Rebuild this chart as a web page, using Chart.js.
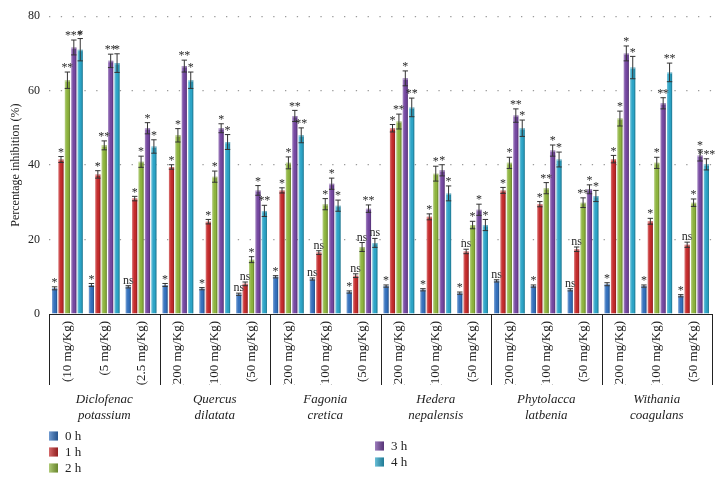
<!DOCTYPE html>
<html>
<head>
<meta charset="utf-8">
<script src="https://cdn.jsdelivr.net/npm/chart.js@4.4.1/dist/chart.umd.min.js"></script>
<style>
  html, body { margin: 0; padding: 0; background: #fff; }
  canvas { display: block; }
</style>
</head>
<body>
<canvas id="chart" width="726" height="496"></canvas>
<script>
// ---------------------------------------------------------
// Data
// ---------------------------------------------------------
const doses = ["(10 mg/Kg)", "(5 mg/Kg)", "(2.5 mg/Kg)"];
const plantDoses = ["(200 mg/Kg)", "(100 mg/Kg)", "(50 mg/Kg)"];
const categories = doses.concat(plantDoses, plantDoses, plantDoses, plantDoses, plantDoses);

const plants = [
    ["Diclofenac", "potassium"],
    ["Quercus", "dilatata"],
    ["Fagonia", "cretica"],
    ["Hedera", "nepalensis"],
    ["Phytolacca", "latbenia"],
    ["Withania", "coagulans"]
];

const seriesLabels = ["0 h", "1 h", "2 h", "3 h", "4 h"];
const seriesColors = ["#3370bd", "#c42a2b", "#8db43d", "#7446a0", "#2ba4c7"];

const h0 = [6.9, 7.8, 7.3, 7.8, 6.8, 5.3, 10.0, 9.4, 5.9, 7.5, 6.5, 5.6, 8.9, 7.5, 6.5, 8.0, 7.5, 4.9];
const h1 = [41.5, 37.5, 31.0, 39.5, 24.8, 8.1, 33.2, 16.5, 10.3, 49.9, 26.1, 16.8, 33.2, 29.5, 17.4, 41.6, 24.9, 18.6];
const h2 = [62.8, 45.3, 40.9, 48.0, 36.9, 14.6, 40.6, 29.5, 18.0, 51.7, 37.7, 23.9, 40.6, 33.8, 29.9, 52.5, 40.6, 29.9];
const h3 = [71.6, 68.0, 49.9, 66.6, 49.9, 33.2, 53.2, 35.0, 28.3, 63.3, 38.6, 28.0, 53.3, 43.9, 33.5, 70.0, 56.6, 42.6];
const h4 = [71.0, 67.4, 45.0, 62.8, 46.2, 27.7, 48.0, 29.1, 19.1, 55.5, 32.4, 23.9, 49.9, 41.5, 31.7, 66.2, 64.9, 40.2];

// error bars (+/-)
const e0 = [0.4, 0.4, 0.3, 0.4, 0.3, 0.3, 0.3, 0.3, 0.3, 0.3, 0.3, 0.3, 0.3, 0.3, 0.3, 0.4, 0.3, 0.3];
const e1 = [0.8, 1.0, 0.6, 0.6, 0.6, 0.5, 0.7, 0.5, 0.5, 1.0, 0.8, 0.6, 0.8, 0.7, 0.6, 1.0, 0.8, 0.7];
const e2 = [2.2, 1.2, 1.5, 1.8, 1.5, 0.8, 1.6, 1.5, 1.2, 2.0, 2.0, 1.0, 1.5, 1.5, 1.3, 2.0, 1.5, 1.0];
const e3 = [2.0, 1.8, 1.5, 1.6, 1.2, 1.3, 1.5, 1.5, 1.0, 2.0, 1.5, 1.5, 1.8, 1.5, 1.2, 2.0, 1.5, 1.5];
const e4 = [3.0, 2.5, 1.8, 2.2, 2.0, 1.5, 2.0, 1.5, 1.2, 2.5, 2.0, 1.5, 2.2, 2.0, 1.5, 3.0, 2.5, 1.5];

// significance marks
const s0 = ["*", "*", "ns", "*", "*", "ns", "*", "ns", "*", "*", "*", "*", "ns", "*", "ns", "*", "*", "*"];
const s1 = ["*", "*", "*", "*", "*", "ns", "*", "ns", "ns", "*", "*", "ns", "*", "*", "ns", "*", "*", "ns"];
const s2 = ["**", "**", "*", "*", "*", "*", "*", "*", "ns", "**", "*", "*", "*", "**", "**", "*", "*", "*"];
const s3 = ["***", "**", "*", "**", "*", "*", "**", "*", "**", "*", "*", "*", "**", "*", "*", "*", "**", "*"];
const s4 = ["*", "*", "*", "*", "*", "**", "**", "*", "ns", "**", "*", "*", "*", "*", "*", "*", "**", "***"];

const values = [h0, h1, h2, h3, h4];
const errors = [e0, e1, e2, e3, e4];
const marks = [s0, s1, s2, s3, s4];

const FONT = "'Liberation Serif', 'Times New Roman', serif";
const TEXT = "#222";

// ---------------------------------------------------------
// Extras: bar shading, error bars, marks, group labels, legend
// ---------------------------------------------------------
const extras = {
    id: "extras",
    afterDatasetsDraw(chart) {
        const ctx = chart.ctx;
        const yScale = chart.scales.y;
        ctx.save();
        chart.data.datasets.forEach((ds, di) => {
            const meta = chart.getDatasetMeta(di);
            meta.data.forEach((bar, i) => {
                const p = bar.getProps(["x", "y", "base", "width"], true);
                const left = p.x - p.width / 2;
                // glossy shading across the bar
                const g = ctx.createLinearGradient(left, 0, left + p.width, 0);
                g.addColorStop(0, "rgba(255,255,255,0.35)");
                g.addColorStop(0.35, "rgba(255,255,255,0.05)");
                g.addColorStop(0.65, "rgba(0,0,0,0)");
                g.addColorStop(1, "rgba(0,0,0,0.3)");
                ctx.fillStyle = g;
                ctx.fillRect(left, p.y, p.width, p.base - p.y);
                ctx.fillStyle = "rgba(255,255,255,0.35)";
                ctx.fillRect(left, p.y, p.width, 1.5);

                // error bar
                const v = values[di][i], e = errors[di][i];
                const yt = yScale.getPixelForValue(v + e);
                const yb = yScale.getPixelForValue(v - e);
                ctx.strokeStyle = "#333";
                ctx.lineWidth = 1;
                ctx.beginPath();
                ctx.moveTo(p.x, yt); ctx.lineTo(p.x, yb);
                ctx.moveTo(p.x - 2.7, yt); ctx.lineTo(p.x + 2.7, yt);
                ctx.moveTo(p.x - 2.7, yb); ctx.lineTo(p.x + 2.7, yb);
                ctx.stroke();

                // significance mark
                const m = marks[di][i];
                ctx.fillStyle = "#2a2a2a";
                ctx.textAlign = "center";
                if (m === "ns") {
                    ctx.font = "12px " + FONT;
                    ctx.textBaseline = "alphabetic";
                    ctx.fillText("ns", p.x, yt - 2);
                } else {
                    ctx.font = "12px " + FONT;
                    ctx.textBaseline = "top";
                    const n = m.length;
                    for (let k = 0; k < n; k++) {
                        const dx = (k - (n - 1) / 2) * 5.8;
                        ctx.fillText("*", p.x + dx, yt - 10);
                    }
                }
            });
        });
        ctx.restore();
    },
    afterDraw(chart) {
        const ctx = chart.ctx;
        const xs = chart.scales.x;
        const area = chart.chartArea;
        ctx.save();
        // block separators below the axis
        ctx.strokeStyle = "#222";
        ctx.lineWidth = 1;
        for (let b = 0; b <= 18; b += 3) {
            let x;
            if (b === 0) x = area.left;
            else if (b === 18) x = area.right;
            else x = (xs.getPixelForValue(b - 1) + xs.getPixelForValue(b)) / 2;
            x = Math.round(x) + 0.5;
            ctx.beginPath();
            ctx.moveTo(x, area.bottom);
            ctx.lineTo(x, area.bottom + 71);
            ctx.stroke();
        }
        // plant names
        ctx.fillStyle = TEXT;
        ctx.font = "italic 13px " + FONT;
        ctx.textAlign = "center";
        ctx.textBaseline = "middle";
        plants.forEach((p, k) => {
            const cx = xs.getPixelForValue(k * 3 + 1);
            ctx.fillText(p[0], cx, area.bottom + 86);
            ctx.fillText(p[1], cx, area.bottom + 102);
        });
        // legend: two columns
        const pos = [[49, 436], [49, 452], [49, 468], [375, 446], [375, 462]];
        ctx.font = "13px " + FONT;
        ctx.textAlign = "left";
        seriesLabels.forEach((lab, k) => {
            const [lx, ly] = pos[k];
            ctx.fillStyle = seriesColors[k];
            ctx.fillRect(lx, ly - 4.5, 9, 9);
            const g = ctx.createLinearGradient(lx, 0, lx + 9, 0);
            g.addColorStop(0, "rgba(255,255,255,0.3)");
            g.addColorStop(1, "rgba(0,0,0,0.25)");
            ctx.fillStyle = g;
            ctx.fillRect(lx, ly - 4.5, 9, 9);
            ctx.fillStyle = TEXT;
            ctx.fillText(lab, lx + 16, ly + 1);
        });
        ctx.restore();
    }
};

const datasets = seriesLabels.map((lab, k) => ({
    label: lab,
    data: values[k],
    backgroundColor: seriesColors[k],
    borderWidth: 0,
    categoryPercentage: 0.87,
    barPercentage: 0.8
}));

new Chart(document.getElementById("chart"), {
    type: "bar",
    data: { labels: categories, datasets: datasets },
    plugins: [extras],
    options: {
        responsive: false,
        animation: false,
        layout: { padding: { left: 0, top: 13, right: 14, bottom: 111 } },
        plugins: {
            legend: { display: false },
            tooltip: { enabled: false }
        },
        scales: {
            x: {
                grid: { display: false, drawTicks: false },
                border: { color: "#222", width: 1 },
                ticks: {
                    autoSkip: false,
                    minRotation: 90,
                    maxRotation: 90,
                    padding: 7,
                    color: TEXT,
                    font: { family: FONT, size: 13 }
                },
                afterFit: s => { s.height = 71; }
            },
            y: {
                min: 0,
                max: 80,
                ticks: {
                    stepSize: 20,
                    padding: 9,
                    color: TEXT,
                    font: { family: FONT, size: 12 }
                },
                grid: {
                    drawTicks: false,
                    lineWidth: 1.3,
                    color: c => (c.tick && c.tick.value === 0) ? "rgba(0,0,0,0)" : "#9a9a9a"
                },
                border: { display: false, dash: [1.3, 10.5] },
                title: {
                    display: true,
                    text: "Percentage inhibition (%)",
                    color: TEXT,
                    font: { family: FONT, size: 12 },
                    padding: { top: 9, bottom: 0 }
                },
                afterFit: s => { s.width = 49; }
            }
        }
    }
});
</script>
</body>
</html>
